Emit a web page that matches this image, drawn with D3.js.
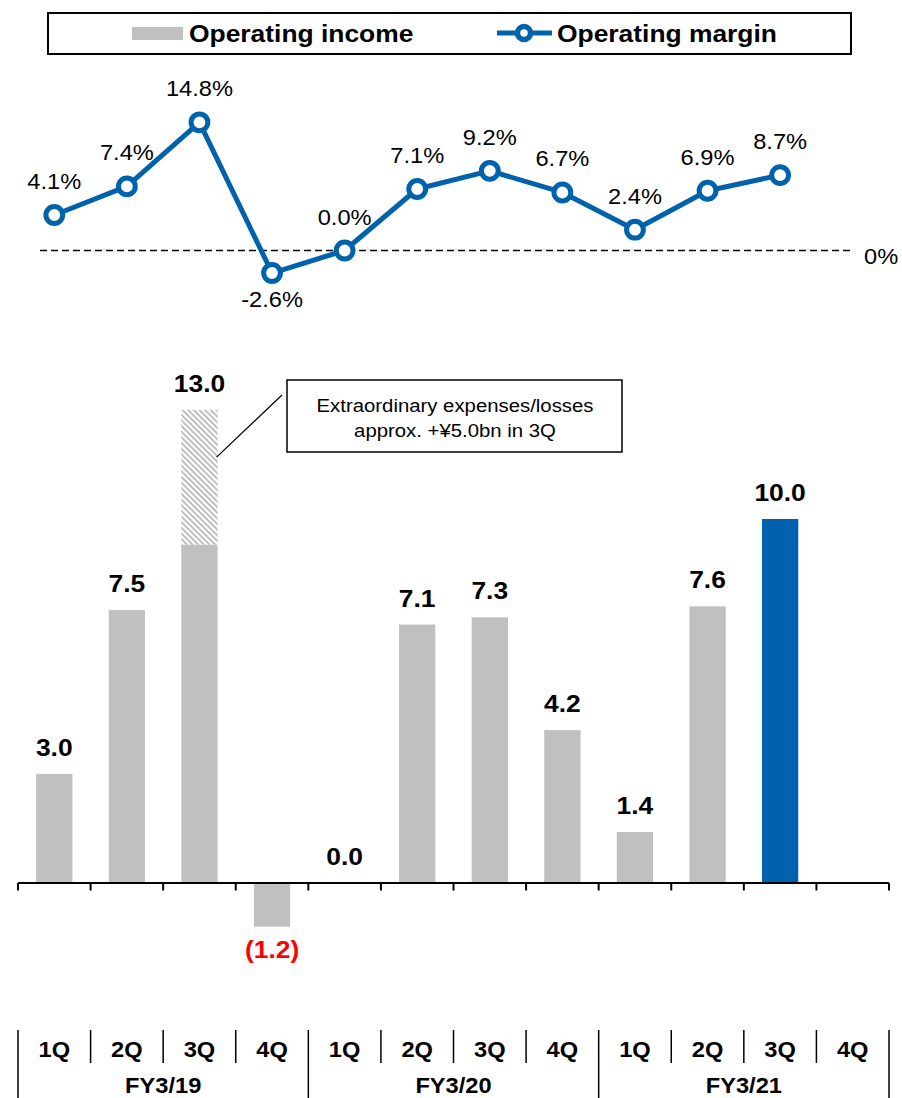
<!DOCTYPE html>
<html>
<head>
<meta charset="utf-8">
<script src="https://cdn.jsdelivr.net/npm/d3@7/dist/d3.min.js"></script>
<style>
  html, body { margin: 0; padding: 0; background: #fff; }
  svg { display: block; font-family: "Liberation Sans", Arial, sans-serif; }
</style>
</head>
<body>
<svg id="chart" width="902" height="1098"></svg>
<script>
// Fiscal periods
const years = ["FY3/19", "FY3/20", "FY3/21"];
const quarters = ["1Q", "2Q", "3Q", "4Q"];

// Operating income (¥bn) per quarter, reported so far
const operatingIncome = [3.0, 7.5, 13.0, -1.2, 0.0, 7.1, 7.3, 4.2, 1.4, 7.6, 10.0];
// Portion of each quarter's income from extraordinary items (shown hatched)
const extraordinary = [0, 0, 3.7, 0, 0, 0, 0, 0, 0, 0, 0];
// Operating margin (%)
const operatingMargin = [4.1, 7.4, 14.8, -2.6, 0.0, 7.1, 9.2, 6.7, 2.4, 6.9, 8.7];
// Latest quarter is highlighted
const highlightIndex = 10;

const BLUE = "#0062AD";
const GRAY = "#C0C0C0";
const STRETCH = 1.1;

const periods = [];
years.forEach(y => quarters.forEach(q => periods.push(y + " " + q)));

const svg = d3.select("#chart");

const x = d3.scaleBand().domain(periods).range([18, 889]).paddingInner(0).paddingOuter(0);
const bw = x.bandwidth() * 0.5;
const cx = i => x(periods[i]) + x.bandwidth() / 2;

const yBar = d3.scaleLinear().domain([0, 10]).range([883, 519]);
const yMargin = d3.scaleLinear().domain([0, 10]).range([250.5, 163.9]);

// text helper: slightly wide glyphs
function label(g, text, px, py, opts) {
  return g.append("text")
    .attr("transform", `translate(${px},${py}) scale(${STRETCH},1)`)
    .attr("text-anchor", opts.anchor || "middle")
    .attr("font-size", opts.size)
    .attr("font-weight", opts.weight || "normal")
    .attr("fill", opts.fill || "#000")
    .text(text);
}

// hatch pattern for extraordinary part
const defs = svg.append("defs");
const pat = defs.append("pattern")
  .attr("id", "hatch")
  .attr("patternUnits", "userSpaceOnUse")
  .attr("width", 4).attr("height", 4)
  .attr("patternTransform", "rotate(45)");
pat.append("rect").attr("width", 4).attr("height", 4).attr("fill", "#fff");
pat.append("rect").attr("x", 0).attr("y", 0).attr("width", 4).attr("height", 1.8).attr("fill", "#B8B8B8");

// ---------- Legend ----------
const lg = svg.append("g");
lg.append("rect").attr("x", 48).attr("y", 13).attr("width", 803).attr("height", 41)
  .attr("fill", "#fff").attr("stroke", "#000").attr("stroke-width", 2);
lg.append("rect").attr("x", 132).attr("y", 27).attr("width", 51).attr("height", 13).attr("fill", GRAY);
label(lg, "Operating income", 189, 42, { anchor: "start", size: 24, weight: "bold" });
lg.append("line").attr("x1", 497).attr("x2", 552).attr("y1", 33).attr("y2", 33)
  .attr("stroke", BLUE).attr("stroke-width", 5);
lg.append("circle").attr("cx", 524).attr("cy", 33).attr("r", 6.5)
  .attr("fill", "#fff").attr("stroke", BLUE).attr("stroke-width", 5.5);
label(lg, "Operating margin", 557, 42, { anchor: "start", size: 24, weight: "bold" });

// ---------- Margin line ----------
const mg = svg.append("g");
mg.append("line").attr("x1", 40).attr("x2", 853).attr("y1", yMargin(0)).attr("y2", yMargin(0))
  .attr("stroke", "#000").attr("stroke-width", 1.5).attr("stroke-dasharray", "7,4");
label(mg, "0%", 864, yMargin(0) + 13.5, { anchor: "start", size: 21.5 });

const line = d3.line().x((d, i) => cx(i)).y(d => yMargin(d));
mg.append("path").datum(operatingMargin).attr("d", line)
  .attr("fill", "none").attr("stroke", BLUE).attr("stroke-width", 5).attr("stroke-linejoin", "round");
mg.selectAll("circle.pt").data(operatingMargin).enter().append("circle")
  .attr("class", "pt")
  .attr("cx", (d, i) => cx(i)).attr("cy", d => yMargin(d)).attr("r", 8.4)
  .attr("fill", "#fff").attr("stroke", BLUE).attr("stroke-width", 5);
operatingMargin.forEach((d, i) => {
  const ly = d < 0 ? yMargin(d) + 34 : yMargin(d) - 26;
  label(mg, d.toFixed(1) + "%", cx(i), ly, { size: 21.5 });
});

// ---------- Income bars ----------
const bg = svg.append("g");
operatingIncome.forEach((v, i) => {
  const base = v - extraordinary[i];
  const top = Math.max(0, base), bot = Math.min(0, base);
  bg.append("rect")
    .attr("x", cx(i) - bw / 2).attr("width", bw)
    .attr("y", yBar(top)).attr("height", yBar(bot) - yBar(top))
    .attr("fill", i === highlightIndex ? BLUE : GRAY);
  if (extraordinary[i] > 0) {
    bg.append("rect")
      .attr("x", cx(i) - bw / 2).attr("width", bw)
      .attr("y", yBar(v)).attr("height", yBar(base) - yBar(v))
      .attr("fill", "url(#hatch)");
  }
  if (v < 0) {
    label(bg, "(" + Math.abs(v).toFixed(1) + ")", cx(i), yBar(v) + 31, { size: 24, weight: "bold", fill: "#FF0000" });
  } else {
    label(bg, v.toFixed(1), cx(i), yBar(v) - 18, { size: 24, weight: "bold" });
  }
});

// annotation for the extraordinary items
const ai = 2;
const ag = svg.append("g");
ag.append("line")
  .attr("x1", cx(ai) + bw / 2 - 1).attr("y1", yBar(11.7))
  .attr("x2", 282).attr("y2", 395)
  .attr("stroke", "#000").attr("stroke-width", 1.3);
ag.append("rect").attr("x", 287).attr("y", 380).attr("width", 335).attr("height", 72)
  .attr("fill", "#fff").attr("stroke", "#000").attr("stroke-width", 1.5);
label(ag, "Extraordinary expenses/losses", 455, 412, { size: 18.5 });
label(ag, "approx. +¥5.0bn in 3Q", 455, 437, { size: 18.5 });

// ---------- Zero axis ----------
const axg = svg.append("g");
const x0 = x.range()[0], x1 = x.range()[1], step = x.step();
const edges = d3.range(periods.length + 1).map(k => x0 + k * step);
axg.append("line").attr("x1", x0).attr("x2", x1).attr("y1", yBar(0)).attr("y2", yBar(0))
  .attr("stroke", "#000").attr("stroke-width", 2);
axg.selectAll("line.tick").data(edges).enter().append("line")
  .attr("class", "tick")
  .attr("x1", d => d).attr("x2", d => d)
  .attr("y1", yBar(0)).attr("y2", yBar(0) + 7.5)
  .attr("stroke", "#000").attr("stroke-width", 2);

// ---------- Period table ----------
const tg = svg.append("g");
edges.forEach((e, k) => {
  const isYear = k % quarters.length === 0;
  tg.append("line").attr("x1", e).attr("x2", e)
    .attr("y1", 1030).attr("y2", isYear ? 1098 : 1063)
    .attr("stroke", "#000").attr("stroke-width", 1.5);
});
periods.forEach((p, i) => {
  label(tg, quarters[i % quarters.length], cx(i), 1057, { size: 21.5, weight: "bold" });
});
years.forEach((y, k) => {
  const mid = (edges[k * 4] + edges[k * 4 + 4]) / 2;
  label(tg, y, mid, 1093, { size: 21.5, weight: "bold" });
});
</script>
</body>
</html>
